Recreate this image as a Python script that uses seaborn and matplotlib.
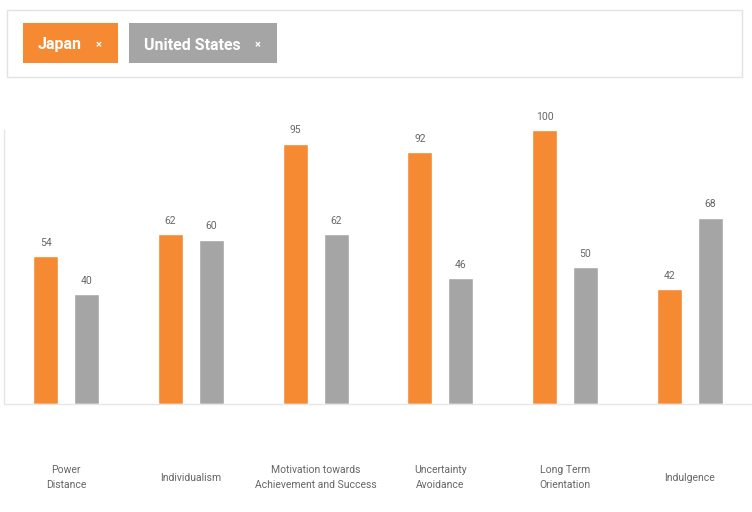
import pandas as pd
import matplotlib.pyplot as plt
import seaborn as sns
from matplotlib.patches import Rectangle

# Hofstede dimension scores
dimensions = ["Power\nDistance", "Individualism", "Motivation towards\nAchievement and Success",
              "Uncertainty\nAvoidance", "Long Term\nOrientation", "Indulgence"]
japan = [54, 62, 95, 92, 100, 42]
usa = [40, 60, 62, 46, 50, 68]
countries = ["Japan", "United States"]
colors = ["#F58A33", "#A5A5A5"]

df = pd.DataFrame({
    "dimension": dimensions * 2,
    "score": japan + usa,
    "country": [countries[0]] * 6 + [countries[1]] * 6,
})

sns.set_style("white")
plt.rcParams["font.family"] = ["Roboto", "DejaVu Sans"]

fig = plt.figure(figsize=(7.52, 5.12), dpi=100)
ax = fig.add_axes([4 / 752, 1 - 404 / 512, 748 / 752, 274 / 512])

sns.barplot(data=df, x="dimension", y="score", hue="country", palette=colors,
            width=0.656, gap=0.39, legend=False, ax=ax, saturation=1)

for cont in ax.containers:
    ax.bar_label(cont, padding=6, fontsize=7.5, color="#666666", clip_on=False)

ax.set_xlim(-0.5, 5.5)
ax.set_ylim(0, 100)
ax.set_xlabel("")
ax.set_ylabel("")
ax.set_yticks([])
ax.tick_params(axis="x", length=0, pad=53, labelsize=7.5, labelcolor="#666666")
for lbl in ax.get_xticklabels():
    lbl.set_verticalalignment("center")
    lbl.set_linespacing(1.6)
for side in ["top", "right"]:
    ax.spines[side].set_visible(False)
for side in ["left", "bottom"]:
    ax.spines[side].set_color("#E6E6E6")
    ax.spines[side].set_linewidth(1)

# legend panel drawn as chips
def px(x, y):
    return x / 752, 1 - y / 512

fig.patches.append(Rectangle(px(7, 77), 735 / 752, 67 / 512, transform=fig.transFigure,
                             facecolor="white", edgecolor="#E3E3E3", linewidth=1))
chips = [(23, 95, countries[0], colors[0]), (129, 148, countries[1], colors[1])]
for x0, w, name, col in chips:
    fig.patches.append(Rectangle(px(x0, 63), w / 752, 40 / 512, transform=fig.transFigure,
                                 facecolor=col, edgecolor="none"))
    fig.text(*px(x0 + 15, 45), name, color="white", fontsize=11.5, fontweight="bold",
             va="center", ha="left")
    fig.text(*px(x0 + w - 19, 45), "×", color="white", fontsize=8, fontweight="bold",
             va="center", ha="center")

fig.savefig("out.png", dpi=100)
